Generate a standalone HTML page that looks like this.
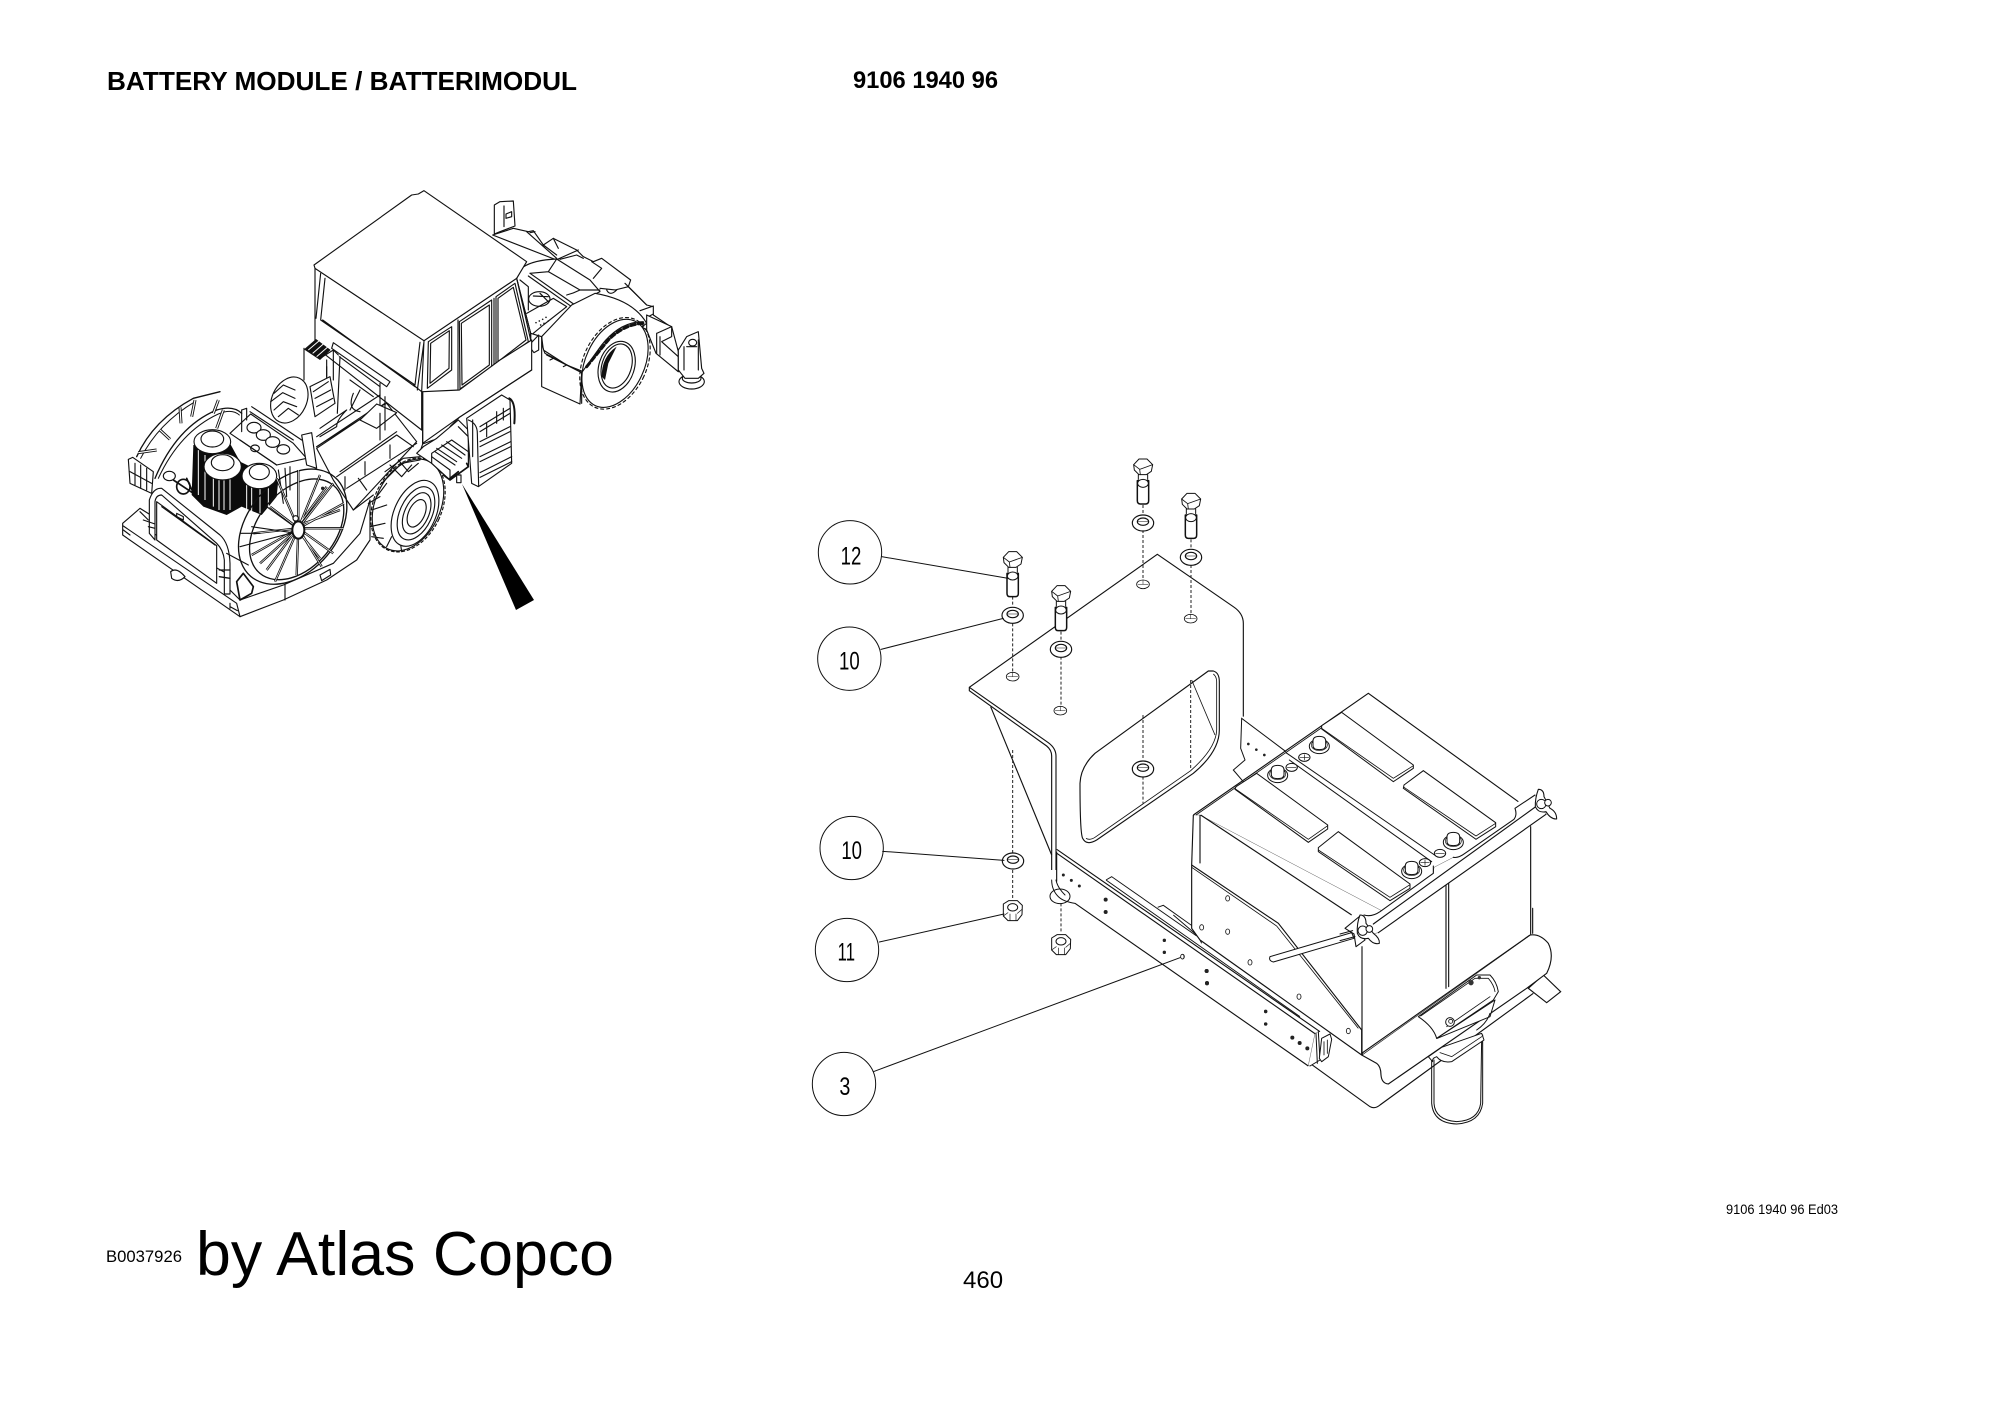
<!DOCTYPE html>
<html><head><meta charset="utf-8"><style>
html,body{margin:0;padding:0;background:#fff;width:2000px;height:1414px;overflow:hidden}
svg{display:block}
text{font-family:"Liberation Sans",sans-serif;fill:#000}
.l{fill:none;stroke:#111;stroke-linejoin:round;stroke-linecap:round}
.w{fill:#fff;stroke:#111;stroke-linejoin:round}
.d{fill:none;stroke:#222;stroke-dasharray:9 6}
.t path,.t ellipse,.t circle{stroke-width:3.4}
</style></head><body>
<svg width="2000" height="1414" viewBox="0 0 2000 1414" xmlns="http://www.w3.org/2000/svg">
<defs>
<g id="bolt">
<path class="w" d="M-17,40V100Q-17,110 -8,110H8Q17,110 17,100V40Z" stroke-width="4.5"/>
<ellipse class="w" cx="0" cy="48" rx="16" ry="12" stroke-width="3"/>
<path class="l" d="M-14,22V36M14,22V36" stroke-width="3"/>
<path class="w" d="M-28,-8L-12,-25L12,-25L29,-8L25,12L10,22L-12,22L-26,8Z" stroke-width="3"/>
<path class="l" d="M-28,-8L-10,6L-8,22M-10,6L29,-8" stroke-width="2.5"/>
</g>
<g id="washer">
<ellipse class="w" cx="0" cy="2" rx="32" ry="24" stroke-width="3.5"/>
<ellipse class="w" cx="0" cy="-2" rx="17" ry="11" stroke-width="3.5"/>
<path class="l" d="M-17,-2H17" stroke-width="1.5"/>
</g>
<g id="hole">
<ellipse class="w" cx="0" cy="0" rx="19" ry="13" stroke-width="2.5"/>
<path class="l" d="M-15,0H15M0,-12V0" stroke-width="1.5"/>
</g>
<g id="nut">
<path class="w" d="M-28,-18L-12,-28L14,-28L29,-14L28,14L14,32L-14,32L-28,18Z" stroke-width="3"/>
<ellipse class="w" cx="0" cy="-8" rx="15" ry="11" stroke-width="3"/>
<path class="l" d="M-28,18L-14,8M14,10L28,-2M-8,32V12M10,32V12" stroke-width="2"/>
</g>
<g id="term">
<ellipse class="w" cx="0" cy="4" rx="30" ry="22" stroke-width="3"/>
<ellipse class="l" cx="0" cy="0" rx="24" ry="17" stroke-width="2"/>
<path class="w" d="M-19,2V-12Q-19,-26 0,-26Q19,-26 19,-12V2Q19,14 0,14Q-19,14 -19,2Z" stroke-width="3"/>
</g>
<path id="spk" fill="none" d="M535,385V210M535,385L530,525M535,385L600,225M535,385L640,250M535,385L672,310M535,385L670,385M535,385L640,460M535,385L605,500M535,385L465,545M535,385L420,490M535,385L395,465M535,385L400,400M535,385L450,320M535,385L470,235M525,390L620,260M525,380L660,330M540,400L600,475M525,395L440,510"/>
<path id="bspk" fill="none" d="M55,158L110,150M120,90L150,118M180,22L183,70M225,0L215,50M295,0L280,40M310,30L290,85"/>
</defs>

<!-- page text -->
<text x="107" y="90" font-size="26" font-weight="700" textLength="470" lengthAdjust="spacingAndGlyphs">BATTERY MODULE / BATTERIMODUL</text>
<text x="853" y="88" font-size="24" font-weight="700" textLength="145" lengthAdjust="spacingAndGlyphs">9106 1940 96</text>
<text x="106" y="1262" font-size="17" textLength="76" lengthAdjust="spacingAndGlyphs">B0037926</text>
<text x="196" y="1275" font-size="62" textLength="418" lengthAdjust="spacingAndGlyphs">by Atlas Copco</text>
<text x="963" y="1288" font-size="24">460</text>
<text x="1726" y="1214" font-size="13.5" textLength="112" lengthAdjust="spacingAndGlyphs">9106 1940 96 Ed03</text>

<!-- truck: cab and rear -->
<g class="t" transform="translate(300,190) scale(.33333)">
<path class="w" d="M583,132V45L600,35L640,33L645,108L600,125Z"/>
<path class="l" d="M612,48V110M618,72L635,65V80L618,85Z"/>
<path class="w" d="M578,135L640,115L685,125L700,122L730,165L760,145L830,180L850,200L880,215L905,205L992,270L985,290L1040,345L1060,350L1060,375L1112,410L1115,440L1135,480L1135,545L1070,490L1040,420L900,330L770,210Z"/>
<path class="l" d="M680,125L770,205M690,128L705,125M730,165L770,195M760,145L775,175M875,215L905,235L880,265M975,280L1040,345M1020,362L1060,348M1045,380L1060,372"/>
<path class="l" d="M772,208L835,180M780,208L830,195L850,205M900,295L945,300L985,290M920,300Q930,320 950,300"/>
<path class="w" d="M650,265L668,232Q700,210 770,207L870,270L900,305L820,345L725,440L692,430Z"/>
<path class="l" d="M770,207L745,245L690,250M745,245L840,300L900,300M840,300Q820,310 800,315"/>
<path class="l" d="M690,250L825,345M685,258L815,350" stroke-width="4"/>
<ellipse class="l" cx="718" cy="327" rx="32" ry="22"/>
<path class="l" d="M700,318L745,320M720,310L745,335"/>
<path class="l" d="M680,370L760,325L800,350L730,405L700,430M660,270L685,290V360"/>
<g fill="#222"><circle cx="708" cy="398" r="2.5"/><circle cx="718" cy="393" r="2.5"/><circle cx="728" cy="388" r="2.5"/><circle cx="738" cy="382" r="2.5"/><circle cx="722" cy="405" r="2.5"/><circle cx="732" cy="400" r="2.5"/><circle cx="745" cy="393" r="2.5"/></g>
<path class="w" d="M725,440L815,345L885,310Q1000,330 1040,400L850,545L800,525L730,480Z"/>
<path class="w" d="M725,500V590L840,642L845,548L735,490Q725,470 725,440Z"/>
<path class="l" d="M740,495L845,548M750,510L760,505M790,530L800,525"/>
<path class="w" d="M1040,375L1115,410L1135,485V545L1068,490L1040,420Z"/>
<path class="l" d="M1070,430L1115,410V440L1085,455L1135,500M1070,430V490M1080,440V495"/>
<ellipse class="w" cx="1175" cy="575" rx="38" ry="22"/>
<ellipse class="l" cx="1175" cy="565" rx="28" ry="14"/>
<path class="w" d="M1135,480L1160,440L1195,425L1205,535L1212,550L1195,565H1155L1135,540Z"/>
<path class="l" d="M1152,470V540M1195,450V540M1160,470H1190"/>
<ellipse class="l" cx="1178" cy="458" rx="12" ry="10"/>
<ellipse class="w" cx="945" cy="520" rx="88" ry="140" transform="rotate(25 945 520)" stroke-width="3.5"/>
<ellipse class="l" cx="945" cy="520" rx="95" ry="145" transform="rotate(25 945 520)" stroke-dasharray="9 9"/>
<path class="l" d="M845,640V548L905,465Q960,395 1030,395" stroke-width="3.5"/>
<path class="l" d="M860,530L925,450Q975,400 1035,400" stroke-dasharray="14 9" style="stroke-width:9"/>
<ellipse class="w" cx="950" cy="530" rx="53" ry="78" transform="rotate(18 950 530)"/>
<ellipse class="l" cx="950" cy="528" rx="44" ry="68" transform="rotate(18 950 528)"/>
<path d="M905,560Q905,500 950,470L925,520L915,570Z" fill="#111"/>
<path class="w" d="M45,235V470L365,720L692,535V430L650,265L372,452Z"/>
<path class="w" d="M42,225L335,15L355,12L372,2L680,215L650,265L372,452L45,235Z"/>
<path class="l" d="M372,452L365,605V720M340,585L365,605M372,455L352,600"/>
<path class="l" d="M75,265L62,390L345,585L360,457M62,250L48,385M68,390L345,590"/>
<path class="l" d="M385,455L455,410L455,540L382,595ZM392,460L448,422L447,535L390,580Z"/>
<path class="l" d="M478,395L575,330V530L480,597ZM484,400L568,345V525L486,585Z"/>
<path class="l" d="M481,605L576,540V600L482,648ZM488,620L570,562V595L488,640Z"/>
<path class="l" d="M582,325V550M474,390V680M474,680L692,535"/>
<path class="l" d="M588,320L645,280L685,455L588,525ZM594,325L640,292L678,450L594,515Z"/>
<path class="l" d="M650,265L692,450M692,430V535"/>
<path class="w" d="M692,460L716,435V480L702,488L692,475Z"/>
</g>

<!-- truck: front section -->
<g class="t" transform="translate(120,400) scale(.33333)">
<!-- far tire -->
<ellipse class="w" cx="508" cy="0" rx="52" ry="72" transform="rotate(25 508 0)"/>
<path class="l" d="M462,-20L490,-45L525,-30M452,5L488,-22L525,-5M462,30L490,5L530,20M475,50L505,25L535,45"/>
<!-- frame behind cab (heat sink, posts, window) -->
<path class="l" d="M552,-155V-60"/>
<path class="w" d="M640,-172L810,-55L800,-40L635,-155Z"/>
<path class="l" d="M658,-130L780,-40M660,-130L652,40M780,-50V110M720,-30L690,30M690,-60L760,-10"/>
<path d="M552,-152L588,-183L632,-150L600,-120Z" fill="#111"/>
<path d="M565,-150L598,-178M578,-140L610,-168M590,-130L622,-158" stroke="#fff" style="stroke-width:3" fill="none"/>
<path class="l" d="M600,-125L640,-150L655,-135M640,-150V-60M620,-100V-50"/>
<path class="w" d="M570,-40L630,-70L645,10L585,50Z"/>
<path class="l" d="M580,-25L625,-55M585,-5L632,-30M590,20L638,-5M620,-70V-120"/>
<path class="l" d="M590,110L780,-15M590,140L795,10M600,85L680,30Q650,60 650,80L600,110M700,-20Q680,30 720,35"/>
<!-- engine block -->
<path class="w" d="M330,100L392,42L520,130L560,175L470,195Z"/>
<path class="l" d="M365,30V95M380,25V60M365,30L380,25M395,20L545,120M390,35L520,120M360,120L470,195"/>
<g fill="#fff" stroke="#111"><ellipse cx="402" cy="83" rx="21" ry="16"/><ellipse cx="430" cy="105" rx="21" ry="16"/><ellipse cx="458" cy="126" rx="21" ry="16"/><ellipse cx="490" cy="148" rx="19" ry="14"/></g>
<ellipse class="l" cx="405" cy="145" rx="13" ry="10"/>
<path class="w" d="M545,105L575,98L590,205L560,195Z"/>
<!-- right chassis -->
<path class="w" d="M590,145L770,25L800,10L890,125L700,330L640,240Z" stroke="none"/>
<path class="l" d="M590,140L770,20M650,230L830,105L880,140M680,265L890,130M660,215L830,95M715,235L740,270"/>
<path class="w" d="M720,60L770,12L830,38L770,85Z"/>
<path class="l" d="M780,40V120M795,-10V90M675,230V270M735,185V225M810,135V175"/>
<!-- back reel -->
<path class="l" d="M50,170Q100,60 220,-5L300,-25" style="stroke-width:4"/>
<path class="l" d="M62,175Q115,70 225,5" style="stroke-width:3"/>
<path class="l" d="M105,235Q170,80 290,30Q340,15 365,40" style="stroke-width:4"/>
<path class="l" d="M115,235Q180,95 295,42Q335,25 358,45" style="stroke-width:3"/>
<use href="#bspk" stroke="#111" stroke-width="9"/>
<use href="#bspk" stroke="#fff" stroke-width="3.5"/>
<path class="w" d="M25,178L38,172L100,215L95,280L30,250Z"/>
<path class="l" d="M45,190V255M62,195V265M80,205V270M30,215L95,250"/>
<ellipse class="l" cx="148" cy="228" rx="18" ry="14"/>
<ellipse class="l" cx="190" cy="260" rx="20" ry="22" style="stroke-width:5"/>
<path class="l" d="M160,240L220,280M200,235L225,290" style="stroke-width:5"/>
<!-- engines -->
<path d="M220,135L215,285L250,320L320,345L365,320L425,345L470,290L475,240L360,185L330,130Z" fill="#0b0b0b"/>
<path d="M235,150V285M280,180V320M297,190V330M312,190V330M330,200V330M380,240V330M395,240V335M420,245V340M445,250V330M255,165V300" stroke="#fff" fill="none" style="stroke-width:3"/>
<ellipse class="w" cx="277" cy="125" rx="55" ry="36"/>
<ellipse class="l" cx="277" cy="117" rx="34" ry="24"/>
<ellipse class="w" cx="308" cy="200" rx="56" ry="40"/>
<ellipse class="l" cx="308" cy="188" rx="34" ry="24"/>
<ellipse class="w" cx="418" cy="228" rx="52" ry="38"/>
<ellipse class="l" cx="418" cy="216" rx="30" ry="23"/>
<path class="l" d="M475,210L490,310M495,205L500,290M510,200L510,270" />
<!-- base -->
<path class="w" d="M8,370L60,325L100,350V400L320,520L330,570L360,600L490,555L640,490L720,400L750,300V420L710,480L620,540L490,600L360,650L8,405Z"/>
<path class="l" d="M10,378L350,610L360,650M330,620L352,632M330,610V625M495,555V600M10,390L30,405M60,335L85,360"/>
<path class="w" d="M600,525L630,508L632,525L605,542Z"/>
<path class="w" d="M152,515Q170,500 195,530Q175,550 155,535Z"/>
<!-- hoop -->
<path class="w" d="M88,400V300Q100,262 125,265L300,405Q328,430 330,490V582H313V480Q310,450 290,430L125,285Q108,285 105,305V420Z"/>
<path class="w" d="M110,305L290,437V550L110,420Z"/>
<path class="l" d="M70,360L105,372M85,380L105,385M125,320L285,435M170,340L190,350V360L170,350Z"/>
<path class="l" d="M350,545L370,520L400,560L395,580L360,600Z" style="stroke-width:5"/>
<path class="l" d="M298,510L330,510M298,530L330,535" style="stroke-width:4"/>
<!-- front reel -->
<ellipse class="l" cx="518" cy="380" rx="135" ry="195" transform="rotate(40 518 380)" style="stroke-width:4"/>
<ellipse class="l" cx="530" cy="388" rx="115" ry="172" transform="rotate(40 530 388)" style="stroke-width:4"/>
<use href="#spk" stroke="#111" stroke-width="7"/>
<use href="#spk" stroke="#fff" stroke-width="2"/>
<path class="l" d="M360,440L530,395M360,400L420,400M395,380L530,400M320,460L385,495M440,320L530,385"/>
<ellipse cx="535" cy="390" rx="18" ry="26" fill="#fff" stroke="#111" style="stroke-width:6"/>
<circle cx="527" cy="355" r="8" fill="#fff" stroke="#111"/>
<circle cx="608" cy="265" r="5" fill="#222"/>
<!-- front tire -->
<ellipse class="w" cx="864" cy="315" rx="97" ry="145" transform="rotate(25 864 315)"/>
<ellipse class="l" cx="864" cy="315" rx="102" ry="148" transform="rotate(25 864 315)" stroke-dasharray="8 8"/>
<path class="l" d="M785,250L845,190L900,180M795,215L850,175L900,170M810,195L845,230L875,195M835,180L865,215L895,190M770,290L800,250M755,330L800,315M750,380L795,370M755,410L790,415M800,440L815,410M845,455L840,420"/>
<ellipse class="w" cx="885" cy="340" rx="62" ry="105" transform="rotate(25 885 340)"/>
<ellipse class="l" cx="888" cy="340" rx="48" ry="85" transform="rotate(25 888 340)"/>
<ellipse class="l" cx="890" cy="340" rx="36" ry="66" transform="rotate(25 890 340)"/>
<ellipse class="l" cx="890" cy="340" rx="24" ry="44" transform="rotate(25 890 340)"/>
<path class="l" d="M700,330L760,285M745,310L780,290"/>
</g>

<!-- truck: steps + battery box -->
<g class="t" transform="translate(400,340) scale(.33333)">
<path class="w" d="M68,310L178,232L395,90V0L300,60L178,150L68,155Z" stroke="none"/>
<path class="l" d="M68,155V312L100,300M68,312L60,335L95,320M178,232L395,90M178,232L150,260"/>
<path class="w" d="M50,340L70,320L110,295L175,240L205,270V380L150,420L95,370Z"/>
<path class="w" d="M95,340L155,300L205,335V380L150,420L95,370Z"/>
<path class="l" d="M105,335L165,375M110,325L170,365M125,315L185,355M140,305L195,345M95,350L150,390M150,390V420M175,260L205,290"/>
<path class="l" d="M130,405L150,420L205,380L200,370M150,415L175,395" style="stroke-width:5"/>
<path class="w" d="M170,405H183V428H170Z"/>
<path class="w" d="M200,235L305,165L330,180L335,370L235,440L215,430Z"/>
<path class="l" d="M205,240Q232,250 232,280L236,438M218,240V350M240,260L330,205M240,305L330,260M240,350L332,305M240,398L335,350M240,275L330,220M240,320L330,275M240,365L332,320M240,412L335,365M260,250V290M290,215V250M310,205V240"/>
<path class="l" d="M328,175Q348,185 343,250" style="stroke-width:6"/>
</g>
<path d="M462,484L534,600L516,610Z" fill="#000"/>

<!-- parts diagram, upper -->
<g transform="translate(800,450) scale(.33333)">
<g fill="none" stroke="#111" stroke-width="3.4">
<path d="M1330,800V520Q1330,490 1300,470L1072,313L508,712V722L740,888Q755,900 755,918V1260"/>
<path d="M508,712L745,878Q768,895 768,918V1260"/>
<path d="M572,770L755,1215" />
<path d="M1225,663H1240Q1258,668 1258,695V840Q1258,905 1180,970L890,1170Q860,1188 848,1165Q840,1150 840,1000Q842,950 885,910Z" />
<path d="M1240,672Q1250,680 1250,695V840Q1248,895 1172,962L885,1162Q870,1172 858,1165" stroke-width="2.5"/>
<path d="M1175,690L1245,855" stroke-width="2.5"/>
</g>
<path class="d" stroke-width="3" d="M638,440V470M638,520V668M638,900V1210"/>
<path class="d" stroke-width="3" d="M783,545V575M783,620V770"/>
<path class="d" stroke-width="3" d="M1029,165V195M1029,240V392M1029,795V930M1029,980V1060"/>
<path class="d" stroke-width="3" d="M1173,268V298M1173,345V495M1172,690V960"/>
<use href="#hole" x="638" y="680"/><use href="#hole" x="781" y="782"/><use href="#hole" x="1029" y="403"/><use href="#hole" x="1172" y="506"/>
<use href="#bolt" x="638" y="330"/><use href="#bolt" x="783" y="432"/><use href="#bolt" x="1029" y="52"/><use href="#bolt" x="1173" y="155"/>
<use href="#washer" x="638" y="494"/><use href="#washer" x="783" y="596"/><use href="#washer" x="1029" y="217"/><use href="#washer" x="1173" y="320"/><use href="#washer" x="1029" y="955"/>
<g fill="#fff" stroke="#111" stroke-width="3">
<circle cx="150" cy="307" r="95"/><circle cx="148" cy="626" r="95"/>
</g>
<path class="l" d="M245,320L625,385M243,598L610,505" stroke-width="3"/>
<g font-size="76">
<text x="122" y="343" textLength="62" lengthAdjust="spacingAndGlyphs">12</text>
<text x="117" y="658" textLength="62" lengthAdjust="spacingAndGlyphs">10</text>
</g>
</g>

<!-- parts diagram, lower -->
<g transform="translate(800,800) scale(.33333)">
<g fill="none" stroke="#111" stroke-width="3.4">
<path d="M770,148L1560,695M768,158L1555,708M770,155V245M825,310L1525,798"/>
<path d="M918,240L935,230L1190,408M918,240L1500,650M1073,322L1090,316L1180,380L1205,430M1120,345L1190,405" stroke-width="2.8"/>
</g>
<path class="d" stroke-width="3" d="M638,210V300M783,310V395"/>
<use href="#washer" x="639" y="181"/>
<ellipse class="w" cx="780" cy="289" rx="30" ry="22" stroke-width="3"/>
<path class="l" d="M755,240Q755,270 775,290Q790,305 825,310M768,240Q772,262 795,285" stroke-width="3"/>
<use href="#nut" x="638" y="330"/>
<use href="#nut" x="783" y="432"/>
<g fill="#222"><circle cx="790" cy="225" r="4.5"/><circle cx="814" cy="241" r="4.5"/><circle cx="838" cy="258" r="4.5"/><circle cx="917" cy="299" r="6"/><circle cx="917" cy="336" r="6"/><circle cx="1093" cy="421" r="5"/><circle cx="1093" cy="457" r="5"/><circle cx="1220" cy="513" r="6"/><circle cx="1221" cy="549" r="6"/><circle cx="1397" cy="634" r="5"/><circle cx="1397" cy="672" r="5"/><circle cx="1477" cy="713" r="6"/><circle cx="1499" cy="729" r="6"/><circle cx="1522" cy="745" r="6"/></g>
<ellipse class="w" cx="1148" cy="470" rx="5" ry="7" stroke-width="2.5"/>
<g fill="#fff" stroke="#111" stroke-width="3">
<circle cx="155" cy="144" r="95"/><circle cx="141" cy="450" r="95"/><circle cx="132" cy="852" r="95"/>
</g>
<path class="l" d="M248,154L612,181M238,426L612,342M220,815L1140,473" stroke-width="3"/>
<g font-size="76">
<text x="124" y="177" textLength="62" lengthAdjust="spacingAndGlyphs">10</text>
<text x="113" y="482" textLength="52" lengthAdjust="spacingAndGlyphs">11</text>
<text x="118" y="885" textLength="33" lengthAdjust="spacingAndGlyphs">3</text>
</g>
</g>

<!-- battery assembly -->
<g transform="translate(1180,680) scale(.33333)">
<g fill="none" stroke="#111" stroke-width="3.4">
<path d="M318,215L185,115L182,205L195,240L160,270L190,305" stroke-width="3"/>
<path d="M390,1150L570,1280Q585,1288 600,1275L1060,940"/>
<path d="M1045,925L1090,885L1142,935L1100,968Z"/>
</g>
<path class="w" d="M545,1125L590,1150Q603,1160 603,1185Q605,1210 625,1212L1040,925L1100,880Q1125,830 1105,790Q1080,760 1050,765Z" stroke-width="3.4"/>
<path class="w" d="M60,405L40,405L35,555V745L60,780L545,1125L1052,765V400L620,700Z" stroke="none"/>
<g fill="none" stroke="#111" stroke-width="3.4">
<path d="M40,405L565,40L1015,365"/>
<path d="M48,405L480,105" stroke-width="2.5"/>
<path d="M40,405L35,555M60,405V550"/>
<path d="M62,405L515,705"/>
<path d="M35,555L295,730L545,1050V1125L548,1118L1050,765"/>
<path d="M35,562L290,738L535,1045" stroke-width="2.5"/>
<path d="M35,555V745L60,780"/>
<path d="M60,780L545,1125"/>
</g>
<g fill="#fff" stroke="#111" stroke-width="3">
<path d="M168,320L230,280L443,435V447L385,487L165,328Z"/>
<path d="M415,503L475,455L690,612V625L630,662L415,515Z"/>
<path d="M425,137L485,97L700,255V265L640,305L425,147Z"/>
<path d="M672,315L730,272L947,428V440L888,478L670,325Z"/>
</g>
<path class="l" d="M168,328L385,478L443,437M415,510L630,652L690,614M425,145L640,295L700,257M672,322L888,468L947,430" stroke-width="2.5"/>
<path class="l" d="M318,218L768,528M328,240L755,545" stroke-width="3"/>
<use href="#term" x="293" y="282"/><use href="#term" x="418" y="195"/><use href="#term" x="820" y="483"/><use href="#term" x="695" y="570"/>
<g fill="#fff" stroke="#111" stroke-width="3">
<ellipse cx="335" cy="262" rx="17" ry="12"/><ellipse cx="373" cy="232" rx="17" ry="12"/><ellipse cx="735" cy="548" rx="17" ry="12"/><ellipse cx="780" cy="520" rx="17" ry="12"/>
</g>
<path class="l" d="M322,262H348M360,232H386M373,224V240M722,548H748M735,540V556M767,520H793" stroke-width="2"/>
<path class="w" d="M270,830L515,758L522,775L280,846Q265,842 270,830Z" stroke-width="3"/>
<g fill="#fff" stroke="#111" stroke-width="2.5">
<ellipse cx="143" cy="655" rx="6" ry="8"/><ellipse cx="65" cy="742" rx="6" ry="8"/><ellipse cx="143" cy="755" rx="6" ry="8"/><ellipse cx="210" cy="847" rx="6" ry="8"/><ellipse cx="357" cy="950" rx="6" ry="8"/><ellipse cx="505" cy="1053" rx="6" ry="8"/><ellipse cx="7" cy="830" rx="5" ry="7"/>
</g>
<g fill="#222"><circle cx="205" cy="192" r="4"/><circle cx="229" cy="209" r="4"/><circle cx="253" cy="225" r="4"/></g>
<path class="w" d="M405,1060L415,1055L420,1140L390,1158L385,1156Z" stroke="none"/>
<path class="l" d="M408,1060L412,1150M415,1055L420,1140L390,1158" stroke-width="3"/>
<path class="w" d="M425,1075L450,1062L455,1078L445,1130L425,1145L418,1135Z" stroke-width="3"/>
<path class="l" d="M432,1085V1125M442,1080V1120" stroke-width="2.5"/>
<path class="l" d="M755,1135V1195M762,1140V1270Q765,1320 830,1325Q895,1322 902,1270L905,1075M755,1160V1270Q760,1330 830,1332Q900,1328 908,1270V1065" stroke-width="3"/>
<path class="w" d="M745,1130L785,1102L905,1060L912,1080L815,1145Q785,1150 770,1130Q755,1135 758,1145Z" stroke-width="3"/>
<path class="l" d="M780,1118L815,1130L905,1070" stroke-width="2.5"/>
<path class="w" d="M772,1075L930,1010L945,960L770,1075Z" stroke-width="3"/>
<path class="w" d="M715,1010L890,885H930Q950,905 955,935L940,960L770,1075Q760,1040 715,1010Z" stroke-width="3"/>
<path class="l" d="M722,1008L885,895L925,895Q942,915 945,935M800,1040L930,950" stroke-width="2.5"/>
<path class="l" d="M930,1000Q920,1030 890,1050" stroke-width="3"/>
<circle class="w" cx="810" cy="1026" r="13" stroke-width="3"/>
<circle class="l" cx="812" cy="1024" r="6" stroke-width="2.5"/>
<circle cx="873" cy="908" r="8" fill="#333"/><circle cx="898" cy="893" r="5" fill="#333"/>
<g fill="#222"><circle cx="80" cy="873" r="6"/><circle cx="81" cy="910" r="6"/><circle cx="257" cy="995" r="5"/><circle cx="257" cy="1032" r="5"/></g>
</g>

<!-- strap, wing nuts, right-side verticals -->
<g transform="translate(1340,780) scale(.33333)">
<path class="l" d="M66,500V825M318,315V625M326,310V620M572,140V465M578,385V460" stroke-width="3.4"/>
<path class="w" d="M72,405Q95,412 120,395L280,280L282,262L340,232Q355,235 375,220L522,118Q532,105 525,85L585,45L618,103L115,458L60,470Z" stroke="none"/>
<path class="l" d="M72,405Q95,412 120,395L280,280V258M340,232Q355,235 375,220L522,118Q532,105 525,85L585,45" stroke-width="3.2"/>
<path class="l" d="M100,432L590,78M115,458L618,103" stroke-width="3.4"/>
<path class="w" d="M15,445L60,408L55,440L75,480L48,500L42,462Z" stroke-width="3.2"/>
<path class="l" d="M0,462L38,452M0,482L45,470" stroke-width="3"/>
<path class="w" d="M60,405Q78,405 78,430L100,460Q120,475 118,490Q100,495 85,475Q60,480 52,460Q50,430 60,405Z" stroke-width="3.2"/>
<circle class="w" cx="68" cy="452" r="14" stroke-width="3"/>
<circle class="w" cx="88" cy="447" r="10" stroke-width="3"/>
<path class="w" d="M595,28Q612,28 612,50L630,85Q650,95 650,117Q632,118 618,95Q595,100 586,80Q585,55 595,28Z" stroke-width="3.2"/>
<circle class="w" cx="604" cy="72" r="14" stroke-width="3"/>
<circle class="w" cx="624" cy="68" r="10" stroke-width="3"/>
</g>
</svg>
</body></html>
